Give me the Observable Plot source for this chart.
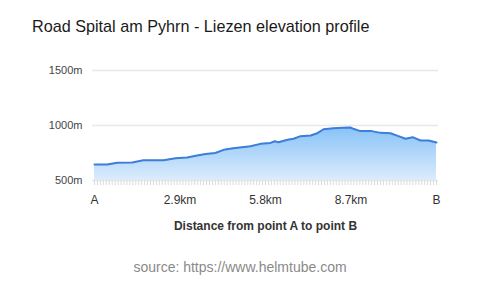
<!DOCTYPE html>
<html>
<head>
<meta charset="utf-8">
<script src="https://cdn.jsdelivr.net/npm/d3@7"></script>
<script src="https://cdn.jsdelivr.net/npm/@observablehq/plot@0.6"></script>
<style>
  html, body { margin: 0; padding: 0; background: #fff; }
  body { width: 480px; height: 287px; position: relative; overflow: hidden; font-family: "Liberation Sans", Arial, Helvetica, sans-serif; }
  #title { position: absolute; left: 32px; top: 17px; font-size: 16.2px; color: #1a1a1a; white-space: nowrap; }
  #chart { position: absolute; left: 0; top: 0; }
  #source { position: absolute; left: 0; width: 480px; top: 259px; text-align: center; font-size: 14px; color: #8a8a8a; }
</style>
</head>
<body>
<div id="chart"></div>
<div id="title">Road Spital am Pyhrn - Liezen elevation profile</div>
<div id="source">source: https://www.helmtube.com</div>
<script>
// Distance along route (km)
const distances = [0, 0.43, 0.77, 1.28, 1.66, 2.34, 2.75, 3.14, 3.48, 3.77, 4.10, 4.38, 4.71, 5.29, 5.63, 5.97, 6.11, 6.24, 6.55, 6.75, 6.99, 7.33, 7.56, 7.77, 8.11, 8.45, 8.68, 8.78, 8.99, 9.36, 9.70, 10.04, 10.31, 10.55, 10.79, 11.06, 11.33, 11.6];
// Elevation (m)
const elevations = [645, 645, 661, 664, 685, 685, 703, 709, 727, 740, 750, 779, 794, 812, 833, 842, 857, 848, 870, 879, 903, 909, 930, 966, 975, 979, 982, 970, 951, 951, 933, 930, 903, 879, 894, 864, 864, 845];
// Axis ticks
const xTicks = [0, 2.9, 5.8, 8.7, 11.6];
const xTickLabels = ["A", "2.9km", "5.8km", "8.7km", "B"];
const yTicks = [500, 1000, 1500];
const xLabel = "Distance from point A to point B";

const data = distances.map((d, i) => ({d, e: elevations[i]}));
const minorTicks = d3.range(0, 11.65, 0.1);

const plot = Plot.plot({
  width: 480,
  height: 287,
  marginTop: 70,
  marginBottom: 107,
  marginLeft: 94,
  marginRight: 44,
  style: {fontFamily: "'Liberation Sans', Arial, Helvetica, sans-serif", background: "#fff"},
  x: {domain: [0, 11.6]},
  y: {domain: [500, 1500]},
  marks: [
    Plot.ruleY(yTicks, {stroke: "#e8e8e8", strokeWidth: 1.5, insetLeft: -2, insetRight: -2}),
    Plot.areaY(data, {x: "d", y1: 500, y2: "e", fill: "url(#elevGrad)", curve: "linear"}),
    Plot.lineY(data, {x: "d", y: "e", stroke: "#3c7ed9", strokeWidth: 2, curve: "linear"}),
    Plot.axisX(minorTicks, {tickSize: 5, tickFormat: () => "", stroke: "#dadada", label: null}),
    Plot.axisX(xTicks, {tickSize: 0, tickPadding: 15, fontSize: 12, fill: "#333", tickFormat: (d, i) => xTickLabels[i], label: null}),
    Plot.axisY(yTicks, {tickSize: 0, tickPadding: 12, fontSize: 11, fill: "#444", tickFormat: d => d + "m", label: null}),
    Plot.text([xLabel], {text: d => d, frameAnchor: "bottom", dy: 49, fontSize: 12, fontWeight: "bold", fill: "#333"})
  ]
});

const svg = d3.select(plot);
const grad = svg.insert("defs", ":first-child").append("linearGradient")
  .attr("id", "elevGrad").attr("x1", 0).attr("y1", 0).attr("x2", 0).attr("y2", 1);
grad.append("stop").attr("offset", "0%").attr("stop-color", "#88c2f7");
grad.append("stop").attr("offset", "100%").attr("stop-color", "#dcecfc");

document.getElementById("chart").appendChild(plot);
</script>
</body>
</html>
